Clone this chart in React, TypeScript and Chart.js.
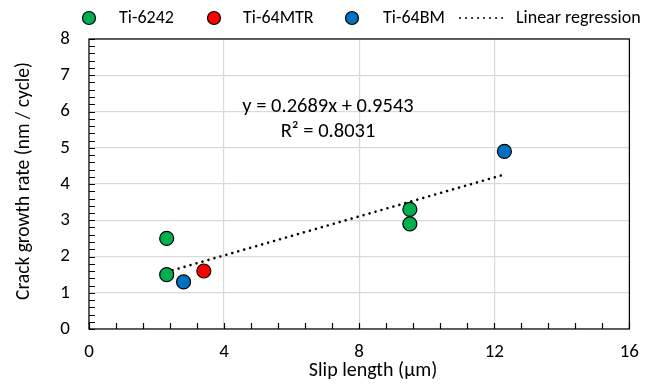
import React, { useEffect, useRef } from "react";
import { Chart, registerables } from "chart.js";
Chart.register(...registerables);

const ti6242X = [2.3, 2.3, 9.5, 9.5];
const ti6242Y = [2.5, 1.5, 3.3, 2.9];
const ti64mtrX = [3.4];
const ti64mtrY = [1.6];
const ti64bmX = [2.8, 12.3];
const ti64bmY = [1.3, 4.9];
const trendX = [2.3, 12.3];
const trendY = [1.573, 4.262];
const legendLabels = ["Ti-6242", "Ti-64MTR", "Ti-64BM", "Linear regression"];
const seriesColors = ["#00B050", "#FF0000", "#0070C0"];
const xTitle = "Slip length (µm)";
const yTitle = "Crack growth rate (nm / cycle)";
const equationText = "y = 0.2689x + 0.9543";
const r2Text = "R² = 0.8031";

const FONT = "Calibri, Carlito, Lato, sans-serif";

const pts = (xs: number[], ys: number[]) => xs.map((x, i) => ({ x, y: ys[i] }));

const decorPlugin = {
  id: "decor",
  beforeDatasetsDraw(chart: any) {
    const { ctx, chartArea: a, scales } = chart;
    ctx.save();
    ctx.strokeStyle = "#000";
    ctx.lineWidth = 1.2;
    ctx.strokeRect(a.left, a.top, a.right - a.left, a.bottom - a.top);
    ctx.beginPath();
    for (let i = 0; i <= 20; i++) {
      const v = i * 0.8;
      const px = Math.round(scales.x.getPixelForValue(v)) + 0.5;
      ctx.moveTo(px, a.bottom);
      ctx.lineTo(px, a.bottom - 6);
    }
    for (let i = 0; i <= 40; i++) {
      const v = i * 0.2;
      const py = Math.round(scales.y.getPixelForValue(v)) + 0.5;
      ctx.moveTo(a.left, py);
      ctx.lineTo(a.left + 6, py);
    }
    ctx.stroke();
    ctx.restore();
  },
  afterDraw(chart: any) {
    const { ctx } = chart;
    ctx.save();
    ctx.fillStyle = "#000";
    ctx.textBaseline = "middle";
    ctx.textAlign = "center";
    ctx.font = `20px ${FONT}`;
    ctx.fillText(xTitle, 373, 371);
    ctx.save();
    ctx.translate(24, 181);
    ctx.rotate(-Math.PI / 2);
    ctx.font = `19.5px ${FONT}`;
    ctx.fillText(yTitle, 0, 0);
    ctx.restore();
    ctx.font = `20.5px ${FONT}`;
    ctx.fillText(equationText, 328, 107);
    ctx.fillText(r2Text, 328, 132);
    const cy = 18;
    const circles = [89, 214, 352];
    const texts = [119, 243, 383];
    ctx.font = `18px ${FONT}`;
    ctx.textAlign = "left";
    for (let i = 0; i < 3; i++) {
      ctx.beginPath();
      ctx.arc(circles[i], cy, 6.5, 0, Math.PI * 2);
      ctx.fillStyle = seriesColors[i];
      ctx.fill();
      ctx.lineWidth = 1.2;
      ctx.strokeStyle = "#000";
      ctx.stroke();
      ctx.fillStyle = "#000";
      ctx.fillText(legendLabels[i], texts[i], cy);
    }
    ctx.beginPath();
    ctx.strokeStyle = "#000";
    ctx.lineWidth = 2;
    ctx.lineCap = "round";
    ctx.setLineDash([0.01, 6]);
    ctx.moveTo(460, cy);
    ctx.lineTo(504, cy);
    ctx.stroke();
    ctx.setLineDash([]);
    ctx.fillText(legendLabels[3], 516, cy);
    ctx.restore();
  },
};

export default function App() {
  const ref = useRef<HTMLCanvasElement>(null);
  useEffect(() => {
    if (!ref.current) return;
    const mk = (i: number, data: any[]) => ({
      type: "scatter" as const,
      label: legendLabels[i],
      data,
      backgroundColor: seriesColors[i],
      borderColor: "#000",
      borderWidth: 1.2,
      pointRadius: 7,
      pointHoverRadius: 7,
      showLine: false,
    });
    const chart = new Chart(ref.current, {
      type: "scatter",
      data: {
        datasets: [
          {
            type: "line" as const,
            label: legendLabels[3],
            data: pts(trendX, trendY),
            borderColor: "#000",
            borderWidth: 2.6,
            borderCapStyle: "round",
            borderDash: [0.01, 6.2],
            pointRadius: 0,
            fill: false,
            order: 2,
          } as any,
          { ...mk(0, pts(ti6242X, ti6242Y)), order: 1 },
          { ...mk(1, pts(ti64mtrX, ti64mtrY)), order: 1 },
          { ...mk(2, pts(ti64bmX, ti64bmY)), order: 1 },
        ],
      },
      options: {
        animation: false,
        responsive: true,
        maintainAspectRatio: false,
        layout: { padding: { top: 39, right: 16, left: 0, bottom: 0 } },
        plugins: { legend: { display: false }, tooltip: { enabled: false } },
        scales: {
          x: {
            type: "linear",
            min: 0,
            max: 16,
            ticks: {
              stepSize: 4,
              color: "#000",
              font: { family: FONT, size: 19 },
              padding: 12,
              maxRotation: 0,
            },
            grid: { color: "#d9d9d9", lineWidth: 1.2, drawTicks: false },
            border: { display: false },
            afterFit: (s: any) => {
              s.height = 58;
            },
          },
          y: {
            type: "linear",
            min: 0,
            max: 8,
            ticks: {
              stepSize: 1,
              color: "#000",
              font: { family: FONT, size: 19 },
              padding: 19,
            },
            grid: { color: "#d9d9d9", lineWidth: 1.2, drawTicks: false },
            border: { display: false },
            afterFit: (s: any) => {
              s.width = 89;
            },
          },
        },
      },
      plugins: [decorPlugin],
    });
    return () => chart.destroy();
  }, []);
  return (
    <div style={{ position: "absolute", left: 0, top: 0, width: 651, height: 387, background: "#fff" }}>
      <canvas ref={ref} />
    </div>
  );
}
